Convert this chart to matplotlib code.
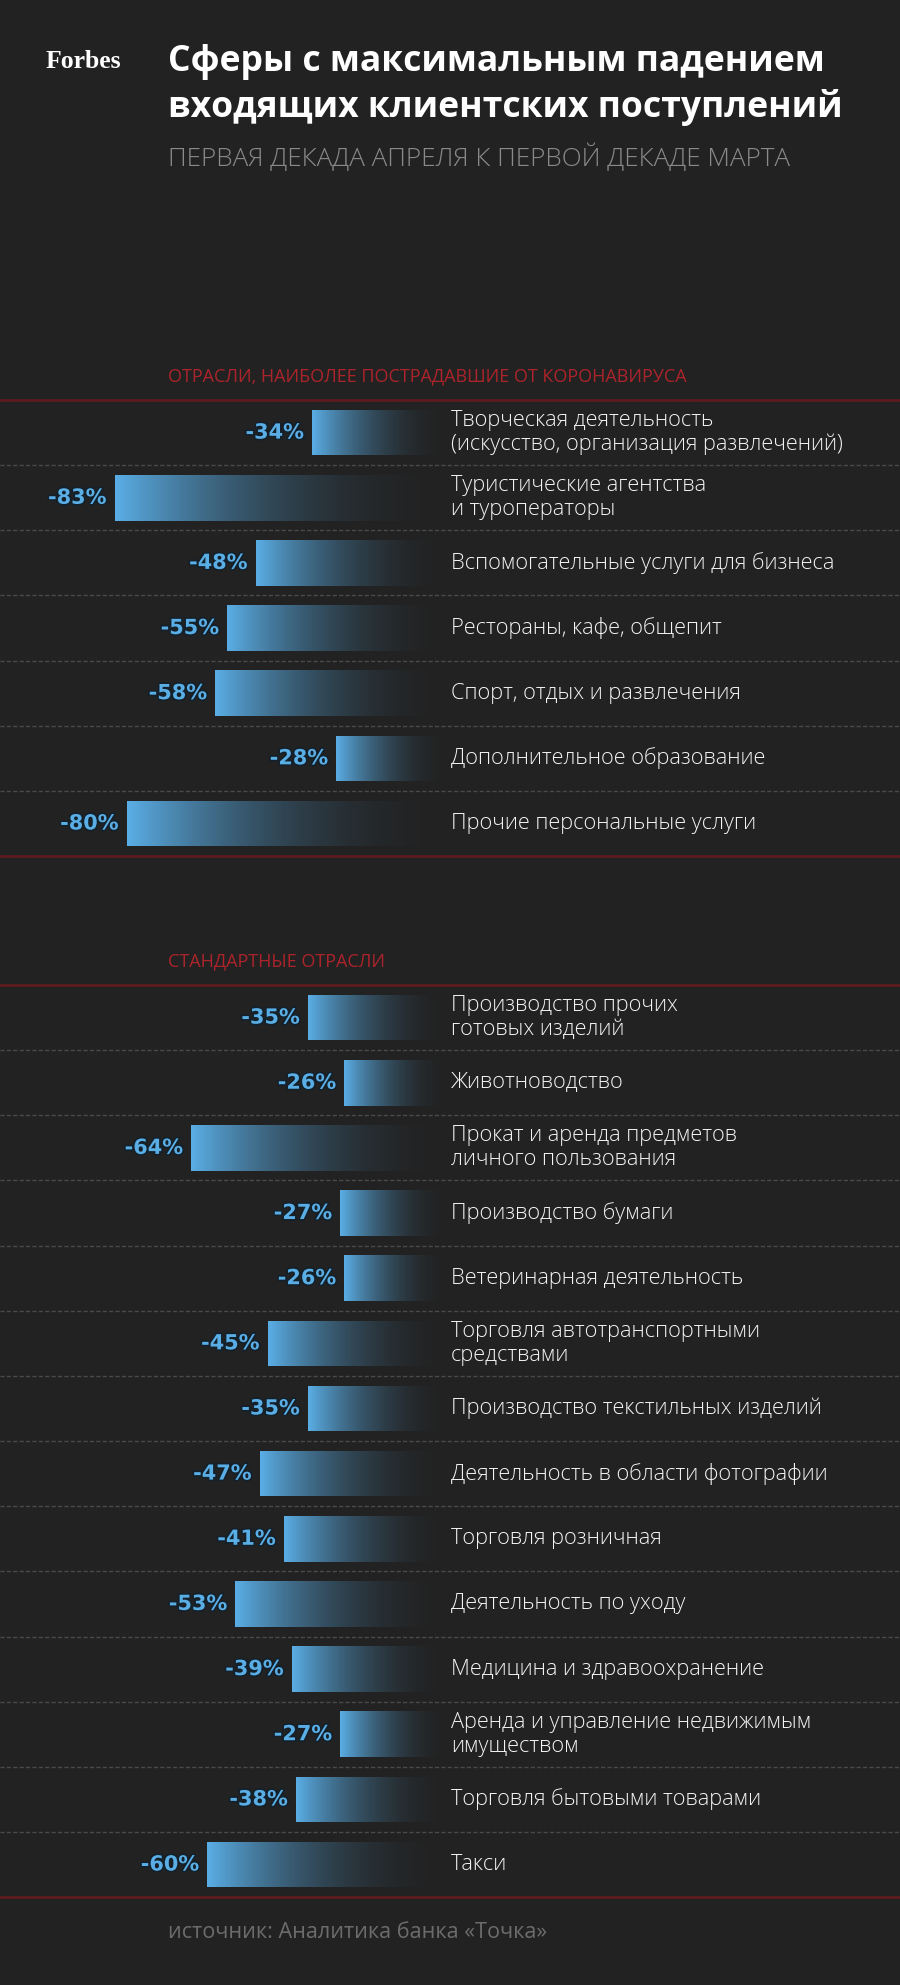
import matplotlib
matplotlib.use('Agg')
import matplotlib.pyplot as plt
import matplotlib.patheffects as pe
import numpy as np

# Данные: падение входящих клиентских поступлений (%)
cat_covid = ['Творческая деятельность\n(искусство, организация развлечений)',
             'Туристические агентства\nи туроператоры',
             'Вспомогательные услуги для бизнеса',
             'Рестораны, кафе, общепит',
             'Спорт, отдых и развлечения',
             'Дополнительное образование',
             'Прочие персональные услуги']
val_covid = [-34, -83, -48, -55, -58, -28, -80]

cat_std = ['Производство прочих\nготовых изделий',
           'Животноводство',
           'Прокат и аренда предметов\nличного пользования',
           'Производство бумаги',
           'Ветеринарная деятельность',
           'Торговля автотранспортными\nсредствами',
           'Производство текстильных изделий',
           'Деятельность в области фотографии',
           'Торговля розничная',
           'Деятельность по уходу',
           'Медицина и здравоохранение',
           'Аренда и управление недвижимым\nимуществом',
           'Торговля бытовыми товарами',
           'Такси']
val_std = [-35, -26, -64, -27, -26, -45, -35, -47, -41, -53, -39, -27, -38, -60]

title = 'Сферы с максимальным падением\nвходящих клиентских поступлений'
subtitle = 'ПЕРВАЯ ДЕКАДА АПРЕЛЯ К ПЕРВОЙ ДЕКАДЕ МАРТА'
head_covid = 'ОТРАСЛИ, НАИБОЛЕЕ ПОСТРАДАВШИЕ ОТ КОРОНАВИРУСА'
head_std = 'СТАНДАРТНЫЕ ОТРАСЛИ'
source = 'источник: Аналитика банка «Точка»'

BG = '#222222'
BLUE = np.array([0x5a, 0xae, 0xe6]) / 255
RED_LINE = '#5e1a1f'
RED_TEXT = '#ac242b'
W, H = 900, 1985
ROW = 65.15
X0 = 449          # пиксель, где проходит ноль шкалы
PX_PER_PCT = 4.03

plt.rcParams['font.family'] = ['Open Sans', 'DejaVu Sans']

fig = plt.figure(figsize=(W / 100, H / 100), dpi=100, facecolor=BG)
ax0 = fig.add_axes([0, 0, 1, 1])
ax0.set_xlim(0, W)
ax0.set_ylim(H, 0)
ax0.axis('off')

# шапка
ax0.text(46, 62, 'Forbes', family='Liberation Serif', fontweight='bold',
         fontsize=18.5, color='white', va='center', ha='left')
ax0.text(168, 85, title, fontsize=25.6, fontweight='bold', color='white',
         va='center', ha='left', linespacing=1.3)
ax0.text(168, 158, subtitle, fontsize=18.8, color='#8a8a8a', va='center', ha='left',
         fontweight='light')
ax0.text(168, 1933, source, fontsize=15.6, color='#6c6c6c', va='center', ha='left')

# градиент для полос: от голубого к цвету фона
t = np.linspace(0, 1, 256)
w = (1 - t) ** 2.1
bgc = np.array([0x22, 0x22, 0x22]) / 255
grad = (BLUE[None, :] * w[:, None] + bgc[None, :] * (1 - w[:, None]))[None, :, :]


def draw_section(top, head, cats, vals):
    n = len(cats)
    height = n * ROW
    ax0.text(168, top - 24, head, fontsize=13, color=RED_TEXT, va='center', ha='left')
    ax = fig.add_axes([0, 1 - (top + height) / H, 1, height / H])
    ax.set_facecolor('none')
    bars = ax.barh(range(n), vals, height=0.7, color='none', linewidth=0)
    for b in bars:
        x0, x1 = sorted([b.get_x(), b.get_x() + b.get_width()])
        y = b.get_y()
        im = ax.imshow(grad, extent=[x0, x1, y + b.get_height(), y],
                       aspect='auto', interpolation='bilinear', zorder=2)
        im.set_clip_path(b)
    for i, (c, v) in enumerate(zip(cats, vals)):
        ax.annotate(c, xy=(0, i), xytext=(2, 0), textcoords='offset pixels',
                    ha='left', va='center', fontsize=15.7, color='#f4f4f4',
                    linespacing=1.2, fontweight='light')
        ax.annotate(f'{v}%', xy=(v, i), xytext=(-8, 0), textcoords='offset pixels',
                    ha='right', va='center', fontsize=15, color='#5aaee6',
                    family='DejaVu Sans', fontweight='bold',
                    path_effects=[pe.withStroke(linewidth=2.5, foreground='#14202a')])
    for i in range(n - 1):
        ax.axhline(i + 0.5, color='#4a4a4a', lw=1, dashes=(3, 1.6))
    ax.set_xlim(-X0 / PX_PER_PCT, (W - X0) / PX_PER_PCT)
    ax.set_ylim(n - 0.5, -0.5)
    ax.set_xticks([])
    ax.set_yticks([])
    for s in ['left', 'right']:
        ax.spines[s].set_visible(False)
    for s in ['top', 'bottom']:
        ax.spines[s].set_color(RED_LINE)
        ax.spines[s].set_linewidth(2)


draw_section(400, head_covid, cat_covid, val_covid)
draw_section(985, head_std, cat_std, val_std)

fig.savefig('out.png', dpi=100, facecolor=BG)
